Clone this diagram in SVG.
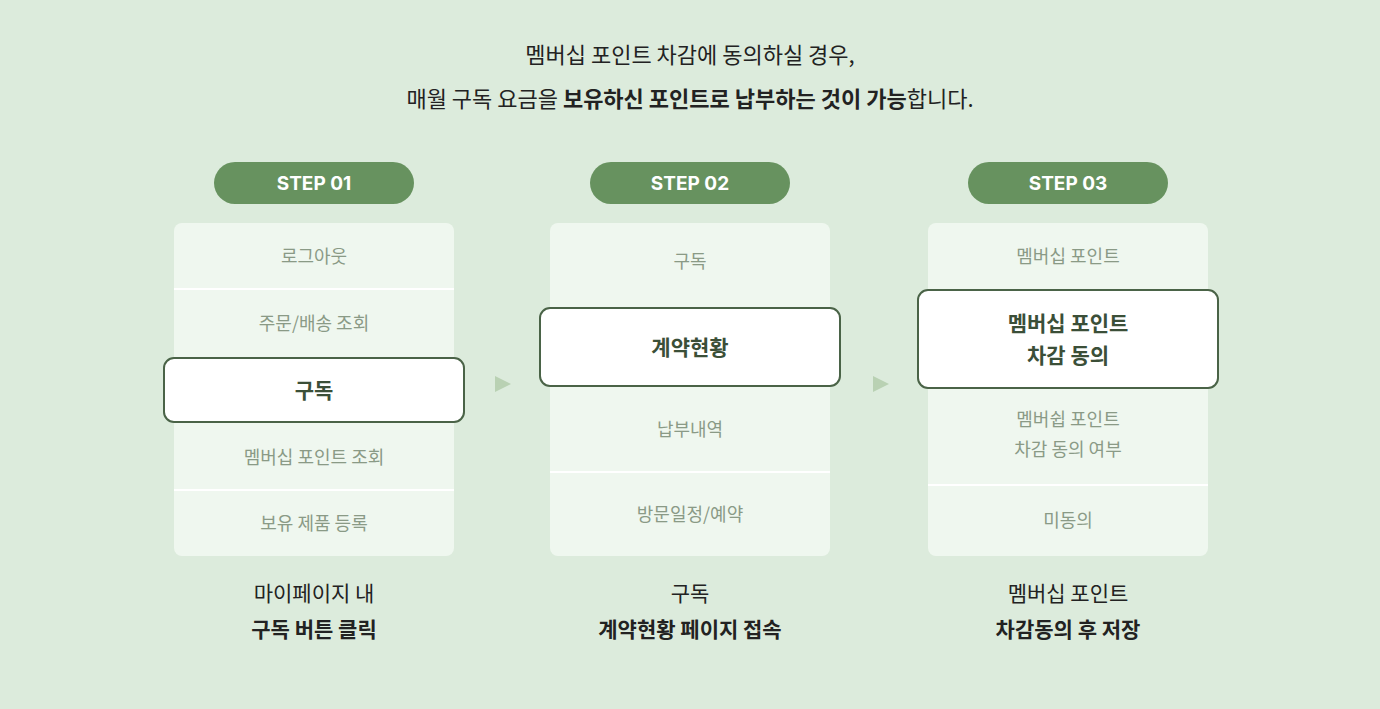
<svg xmlns="http://www.w3.org/2000/svg" width="1380" height="709" viewBox="0 0 1380 709">
<style>
text{font-family:"Noto Sans CJK KR","Noto Sans",sans-serif;text-anchor:middle}
.t{font-size:22px;fill:#222}
.b{font-weight:700}
.pill{fill:#67925f}
.pt{font-size:19px;fill:#fff;font-weight:700;font-family:Inter,"Noto Sans",sans-serif}
.panel{fill:#eff7ef}
.sep{stroke:#fff;stroke-width:2}
.it{font-size:18px;fill:#8a9a86}
.hl{fill:#fff;stroke:#4a6347;stroke-width:2}
.ht{font-size:21px;fill:#3b4f38;font-weight:700}
.cap{font-size:21px;fill:#222}
.arr{fill:#b9d1b3}
</style>
<rect width="1380" height="709" fill="#dcebdc"/>
<text class="t" x="690" y="63">멤버십 포인트 차감에 동의하실 경우,</text>
<text class="t" x="690" y="107">매월 구독 요금을 <tspan class="b">보유하신 포인트로 납부하는 것이 가능</tspan>합니다.</text>
<g id="step1">
<rect class="pill" x="214" y="162" width="200" height="42" rx="21"/>
<text class="pt" x="314" y="190">STEP 01</text>
<rect class="panel" x="174" y="223" width="280" height="333" rx="8"/>
<line class="sep" x1="174" y1="289" x2="454" y2="289"/>
<line class="sep" x1="174" y1="490" x2="454" y2="490"/>
<text class="it" x="314" y="263">로그아웃</text>
<text class="it" x="314" y="330">주문/배송 조회</text>
<rect class="hl" x="164" y="358" width="300" height="64" rx="10"/>
<text class="ht" x="314" y="398">구독</text>
<text class="it" x="314" y="464">멤버십 포인트 조회</text>
<text class="it" x="314" y="530">보유 제품 등록</text>
<text class="cap" x="314" y="601">마이페이지 내</text>
<text class="cap b" x="314" y="637">구독 버튼 클릭</text>
</g>
<g id="step2">
<rect class="pill" x="590" y="162" width="200" height="42" rx="21"/>
<text class="pt" x="690" y="190">STEP 02</text>
<rect class="panel" x="550" y="223" width="280" height="333" rx="8"/>
<line class="sep" x1="550" y1="472" x2="830" y2="472"/>
<text class="it" x="690" y="268">구독</text>
<rect class="hl" x="540" y="308" width="300" height="78" rx="10"/>
<text class="ht" x="690" y="355">계약현황</text>
<text class="it" x="690" y="436">납부내역</text>
<text class="it" x="690" y="521">방문일정/예약</text>
<text class="cap" x="690" y="601">구독</text>
<text class="cap b" x="690" y="637">계약현황 페이지 접속</text>
</g>
<g id="step3">
<rect class="pill" x="968" y="162" width="200" height="42" rx="21"/>
<text class="pt" x="1068" y="190">STEP 03</text>
<rect class="panel" x="928" y="223" width="280" height="333" rx="8"/>
<line class="sep" x1="928" y1="485" x2="1208" y2="485"/>
<text class="it" x="1068" y="263">멤버십 포인트</text>
<rect class="hl" x="918" y="290" width="300" height="98" rx="10"/>
<text class="ht" x="1068" y="331">멤버십 포인트</text>
<text class="ht" x="1068" y="363">차감 동의</text>
<text class="it" x="1068" y="426">멤버쉽 포인트</text>
<text class="it" x="1068" y="456">차감 동의 여부</text>
<text class="it" x="1068" y="527">미동의</text>
<text class="cap" x="1068" y="601">멤버십 포인트</text>
<text class="cap b" x="1068" y="637">차감동의 후 저장</text>
</g>
<g id="connectors">
<polygon class="arr" points="495,376 511,384 495,392"/>
<polygon class="arr" points="873,376 889,384 873,392"/>
</g>
</svg>
